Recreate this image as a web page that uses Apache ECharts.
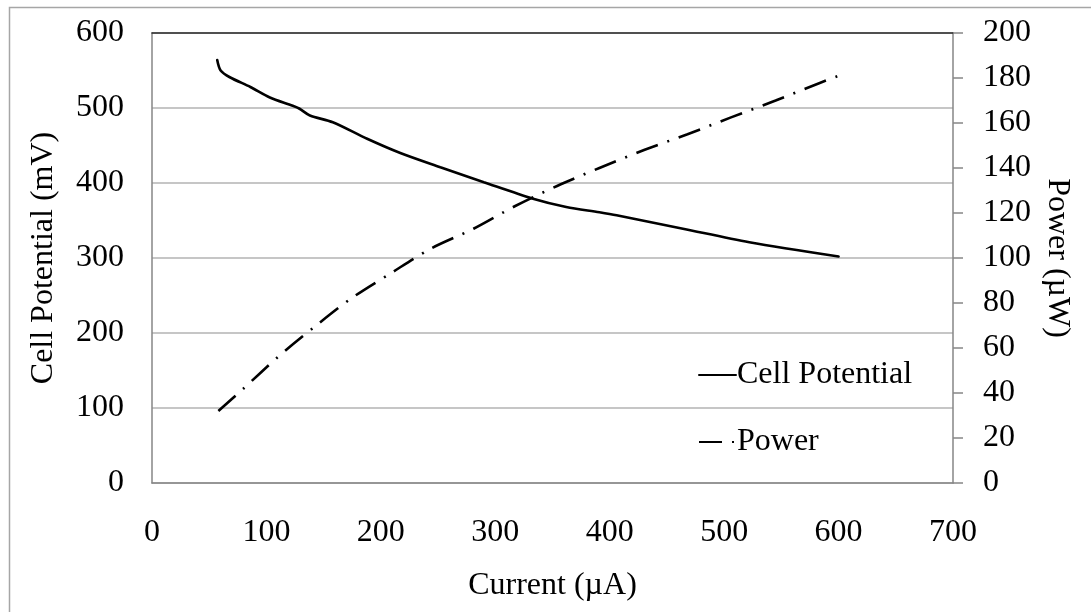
<!DOCTYPE html>
<html>
<head>
<meta charset="utf-8">
<script src="https://cdn.jsdelivr.net/npm/echarts@6/dist/echarts.min.js"></script>
<style>
  html, body { margin: 0; padding: 0; background: #ffffff; }
  #chart { width: 1091px; height: 612px; }
</style>
</head>
<body>
<div id="chart"></div>
<script>
// Polarization curve: current (µA) vs cell potential (mV)
var potentialCurrent = [57, 60, 68, 86, 103, 123, 129, 138, 158, 188, 217, 252, 290, 333, 362, 391, 406, 464, 522, 600];
var potentialValues  = [564, 550, 541, 528, 514, 503, 499, 490, 481, 459, 440, 421, 401, 379, 368, 361, 357, 339, 321, 302];

// Power curve: current (µA) vs power (µW)
var powerCurrent = [58, 80, 110, 141, 174, 208, 243, 281, 317, 354, 391, 430, 468, 506, 545, 583, 600];
var powerValues  = [32, 42, 56, 69, 82, 93, 104, 113, 123, 132, 140, 148, 155, 162.5, 170, 177.7, 181];

var seriesNames = ['Cell Potential', 'Power'];
var xAxisTitle = 'Current (µA)';
var leftAxisTitle = 'Cell Potential (mV)';
var rightAxisTitle = 'Power (µW)';

function pairs(xs, ys) {
  return xs.map(function (x, i) { return [x, ys[i]]; });
}

var FONT = '"Liberation Serif", "Times New Roman", serif';
var textBase = { fontFamily: FONT, fontSize: 32, color: '#000000' };

var chart = echarts.init(document.getElementById('chart'), null, { renderer: 'canvas' });

chart.setOption({
  backgroundColor: '#ffffff',
  animation: false,
  textStyle: { fontFamily: FONT },
  graphic: [{
    type: 'rect',
    silent: true,
    z: -10,
    shape: { x: 9.5, y: 7.5, width: 1200, height: 700 },
    style: { fill: 'none', stroke: '#a6a6a6', lineWidth: 1.5 }
  }],
  grid: { left: 152, right: 138, top: 33, bottom: 129, containLabel: false, outerBoundsMode: 'none' },
  legend: {
    orient: 'vertical',
    left: 698,
    top: 359,
    itemWidth: 37,
    itemHeight: 14,
    itemGap: 35,
    padding: 0,
    textStyle: Object.assign({ padding: [0, 0, 0, -4] }, textBase),
    itemStyle: { opacity: 0 },
    data: seriesNames
  },
  xAxis: [{
    type: 'value',
    min: 0, max: 700, interval: 100,
    name: xAxisTitle,
    nameLocation: 'middle',
    nameGap: 87,
    nameTextStyle: textBase,
    axisLine: { show: true, onZero: false, lineStyle: { color: '#868686', width: 1.5 } },
    axisTick: { show: false },
    axisLabel: Object.assign({ margin: 34 }, textBase),
    splitLine: { show: false }
  }, {
    type: 'value',
    position: 'top',
    min: 0, max: 700,
    axisLine: { show: true, onZero: false, lineStyle: { color: '#2a2a2a', width: 1.5 } },
    axisTick: { show: false },
    axisLabel: { show: false },
    splitLine: { show: false }
  }],
  yAxis: [{
    type: 'value',
    position: 'left',
    min: 0, max: 600, interval: 100,
    name: leftAxisTitle,
    nameLocation: 'middle',
    nameGap: 92,
    nameRotate: 90,
    nameTextStyle: textBase,
    axisLine: { show: true, onZero: false, lineStyle: { color: '#868686', width: 1.5 } },
    axisTick: { show: false },
    axisLabel: Object.assign({ margin: 28 }, textBase),
    splitLine: { show: true, lineStyle: { color: '#b3b3b3', width: 1.5 } }
  }, {
    type: 'value',
    position: 'right',
    min: 0, max: 200, interval: 20,
    name: rightAxisTitle,
    nameLocation: 'middle',
    nameGap: 87,
    nameRotate: -90,
    nameTextStyle: textBase,
    axisLine: { show: true, onZero: false, lineStyle: { color: '#868686', width: 1.5 } },
    axisTick: { show: true, inside: false, length: 10, lineStyle: { color: '#868686', width: 1.5 } },
    axisLabel: Object.assign({ margin: 30 }, textBase),
    splitLine: { show: false }
  }],
  series: [{
    name: seriesNames[0],
    type: 'line',
    xAxisIndex: 0,
    yAxisIndex: 0,
    data: pairs(potentialCurrent, potentialValues),
    showSymbol: false,
    symbol: 'none',
    smooth: 0.3,
    lineStyle: { color: '#000000', width: 2.6, type: 'solid', cap: 'round' },
    itemStyle: { color: '#000000' },
    emphasis: { disabled: true }
  }, {
    name: seriesNames[1],
    type: 'line',
    xAxisIndex: 0,
    yAxisIndex: 1,
    data: pairs(powerCurrent, powerValues),
    showSymbol: false,
    symbol: 'none',
    smooth: 0.3,
    lineStyle: { color: '#000000', width: 2.6, type: [23, 10, 2, 10], cap: 'butt' },
    itemStyle: { color: '#000000' },
    emphasis: { disabled: true }
  }]
});
</script>
</body>
</html>
